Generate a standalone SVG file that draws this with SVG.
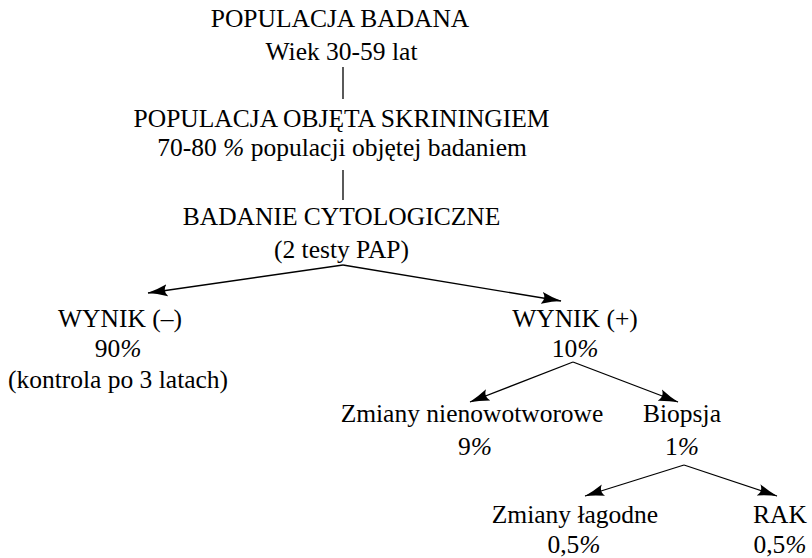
<svg xmlns="http://www.w3.org/2000/svg" width="812" height="558" viewBox="0 0 812 558">
<style>
text{font-family:"Liberation Serif","Times New Roman",serif;font-size:25.5px;fill:#000;text-anchor:middle}
.p{font-style:italic}
.c{stroke:#000;stroke-width:1.3;fill:none}
</style>
<defs>
<marker id="ah" viewBox="0 0 20 13" refX="19.5" refY="6.5" markerWidth="20" markerHeight="13" markerUnits="userSpaceOnUse" orient="auto">
<path d="M0,0.5 Q11,4.8 20,6.5 Q11,8.2 0,12.5 Q5,6.5 0,0.5 Z" fill="#000"/>
</marker>
</defs>
<rect width="812" height="558" fill="#fff"/>
<g id="connectors">
<line class="c" x1="343" y1="67" x2="343" y2="99"/>
<line class="c" x1="343" y1="170" x2="343" y2="200"/>
<line class="c" x1="343" y1="265" x2="148" y2="293" marker-end="url(#ah)"/>
<line class="c" x1="343" y1="265" x2="561" y2="301" marker-end="url(#ah)"/>
<line class="c" x1="573" y1="362" x2="470" y2="402" marker-end="url(#ah)"/>
<line class="c" x1="573" y1="362" x2="678" y2="402" marker-end="url(#ah)"/>
<line class="c" x1="684" y1="465" x2="585" y2="496" marker-end="url(#ah)"/>
<line class="c" x1="684" y1="465" x2="777" y2="496" marker-end="url(#ah)"/>
</g>
<g id="n-populacja">
<text x="340" y="27">POPULACJA BADANA</text>
<text x="341.5" y="60">Wiek 30-59 lat</text>
</g>
<g id="n-skrining">
<text x="341.5" y="127">POPULACJA OBJĘTA SKRININGIEM</text>
<text x="342" y="156">70-80 <tspan class="p">%</tspan> populacji objętej badaniem</text>
</g>
<g id="n-cytologia">
<text x="341.5" y="225">BADANIE CYTOLOGICZNE</text>
<text x="341.5" y="258">(2 testy PAP)</text>
</g>
<g id="n-wynik-neg">
<text x="120" y="327">WYNIK (–)</text>
<text x="118" y="357">90<tspan class="p">%</tspan></text>
<text x="118" y="388">(kontrola po 3 latach)</text>
</g>
<g id="n-wynik-pos">
<text x="575" y="327">WYNIK (+)</text>
<text x="575" y="357">10<tspan class="p">%</tspan></text>
</g>
<g id="n-nienowotworowe">
<text x="472" y="422">Zmiany nienowotworowe</text>
<text x="475" y="455">9<tspan class="p">%</tspan></text>
</g>
<g id="n-biopsja">
<text x="682" y="422">Biopsja</text>
<text x="682" y="455">1<tspan class="p">%</tspan></text>
</g>
<g id="n-lagodne">
<text x="575" y="523">Zmiany łagodne</text>
<text x="574" y="553">0,5<tspan class="p">%</tspan></text>
</g>
<g id="n-rak">
<text x="780" y="523">RAK</text>
<text x="780" y="553">0,5<tspan class="p">%</tspan></text>
</g>
</svg>
